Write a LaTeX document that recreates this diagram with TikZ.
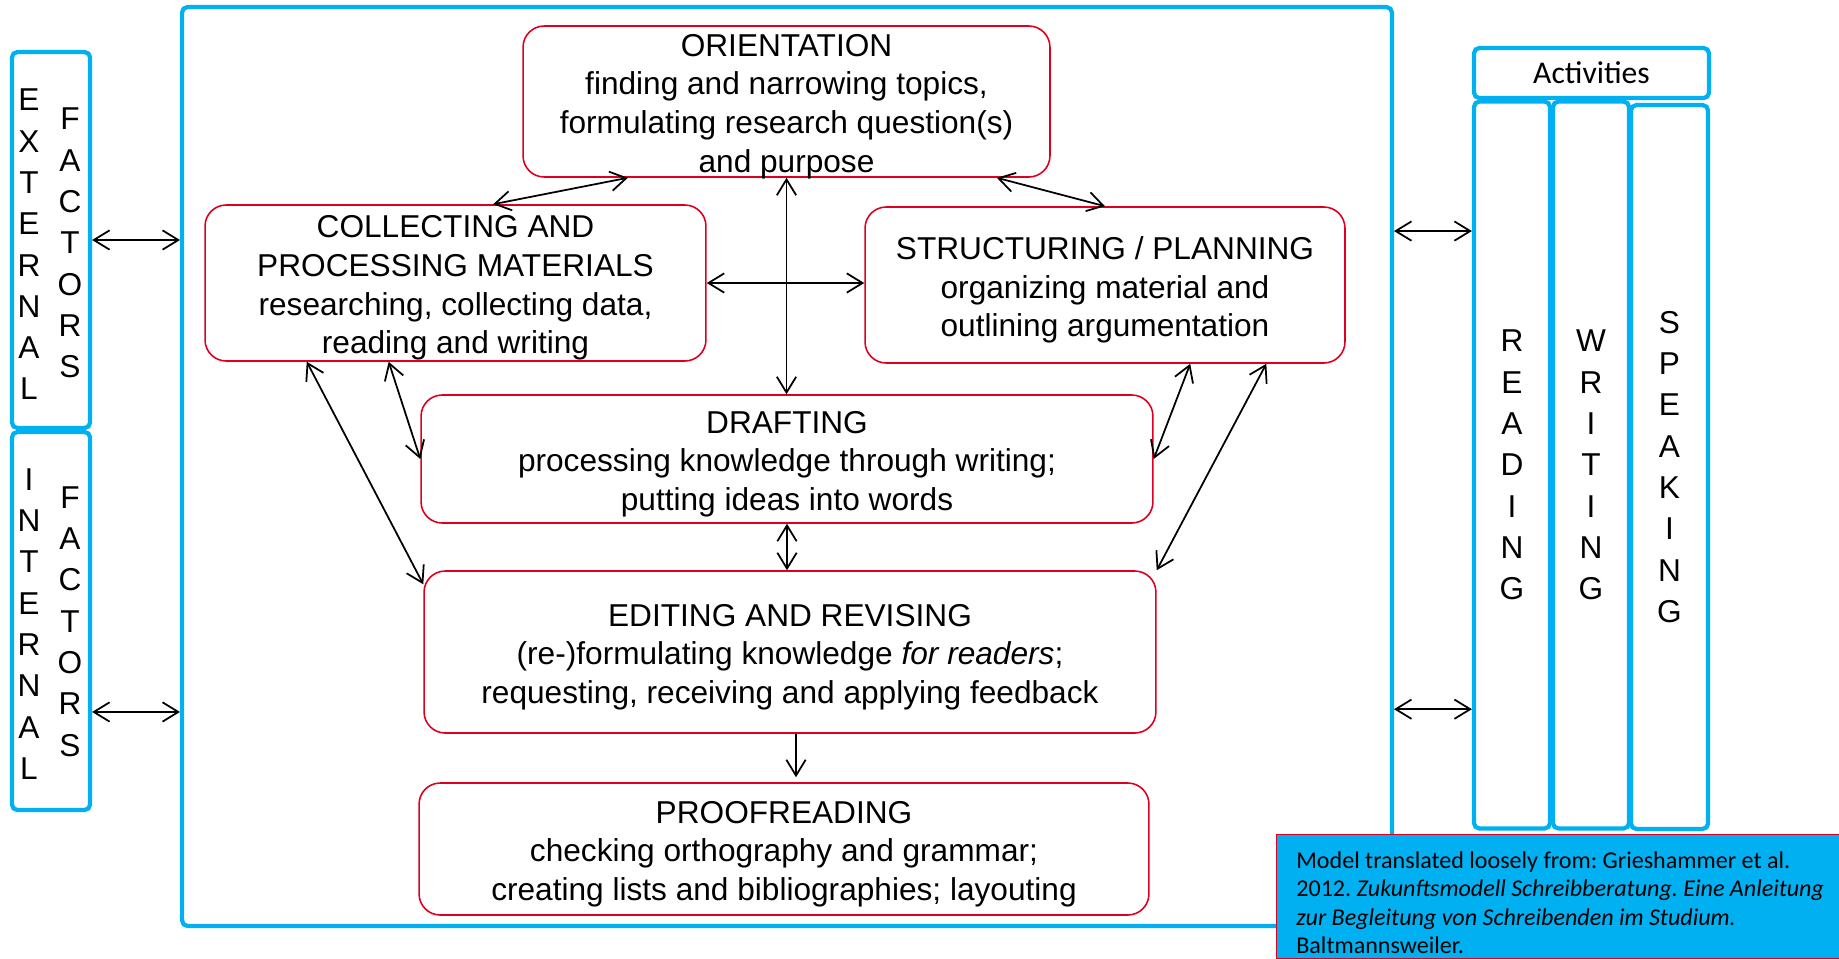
\documentclass[tikz,border=0pt]{standalone}
\usepackage{fontspec}
\setmainfont{Liberation Sans}
\newfontfamily\calibri{Carlito}
\usetikzlibrary{arrows.meta,calc}
\definecolor{boxred}{RGB}{220,0,30}
\definecolor{boxblue}{RGB}{0,176,240}
\frenchspacing
\tikzset{
	phase/.style={draw=boxred, line width=0.9pt, rounded corners=12pt, inner sep=0pt},
	phasetext/.style={align=center, inner sep=0pt, yshift=-2.8pt, font=\fontsize{18}{22}\selectfont},
	frame/.style={draw=boxblue, line width=2.4pt, rounded corners=3pt, inner sep=0pt},
	letters/.style={align=center, inner sep=0pt, font=\fontsize{18}{23.5}\selectfont},
	link/.style={<->, line width=1pt},
}
\begin{document}
\begin{tikzpicture}[x=0.02cm, y=-0.02cm, >={Straight Barb[length=9pt,width=11pt]}]
				\useasboundingbox (0,0) rectangle (1839,958);
				
				\node[frame, minimum width=24.2cm, minimum height=18.38cm] (main) at (787,466.5) {};
				
				\node[frame, minimum width=1.56cm, minimum height=7.52cm] (ext) at (51,240) {};
				\node[letters] (extA) at (29,244.5) {E\\X\\T\\E\\R\\N\\A\\L};
				\node[letters] (extB) at (70,243) {F\\A\\C\\T\\O\\R\\S};
				
				\node[frame, minimum width=1.56cm, minimum height=7.56cm] (int) at (51,621) {};
				\node[letters] (intA) at (29,624) {I\\N\\T\\E\\R\\N\\A\\L};
				\node[letters] (intB) at (70,621.5) {F\\A\\C\\T\\O\\R\\S};
				
				\node[frame, minimum width=4.7cm, minimum height=1cm, font=\calibri\fontsize{18}{22}\selectfont] (act) at (1591.5,73) {Activities};
				\node[frame, letters, minimum width=1.52cm, minimum height=14.54cm] (read) at (1512,465) {R\\E\\A\\D\\I\\N\\G};
				\node[frame, letters, minimum width=1.52cm, minimum height=14.54cm] (write) at (1591,465) {W\\R\\I\\T\\I\\N\\G};
				\node[frame, letters, minimum width=1.54cm, minimum height=14.48cm] (speak) at (1669.5,467) {S\\P\\E\\A\\K\\I\\N\\G};
				
				\node[phase, minimum width=10.54cm, minimum height=3.02cm] (orient) at (786.5,101.5) {};
				\node[phasetext] (orienttext) at (orient) {ORIENTATION\\finding and narrowing topics,\\formulating research question(s)\\and purpose};
				\node[phase, minimum width=10.02cm, minimum height=3.12cm] (coll) at (455.5,283) {};
				\node[phasetext] (colltext) at (coll) {COLLECTING AND\\PROCESSING MATERIALS\\researching, collecting data,\\reading and writing};
				\node[phase, minimum width=9.6cm, minimum height=3.12cm] (struct) at (1105,285) {};
				\node[phasetext] (structtext) at (struct) {STRUCTURING / PLANNING\\organizing material and\\outlining argumentation};
				\node[phase, minimum width=14.64cm, minimum height=2.56cm] (draft) at (787,459) {};
				\node[phasetext] (drafttext) at (draft) {DRAFTING\\processing knowledge through writing;\\putting ideas into words};
				\node[phase, minimum width=14.64cm, minimum height=3.24cm] (edit) at (790,652) {};
				\node[phasetext] (edittext) at (edit) {EDITING AND REVISING\\(re-)formulating knowledge \textit{for readers};\\requesting, receiving and applying feedback};
				\node[phase, minimum width=14.6cm, minimum height=2.64cm] (proof) at (784,849) {};
				\node[phasetext] (prooftext) at (proof) {PROOFREADING\\checking orthography and grammar;\\creating lists and bibliographies; layouting};
				
				\node[draw=boxred, line width=0.5pt, fill=boxblue, minimum width=11.26cm, minimum height=2.48cm, inner sep=0pt] (cite) at (1557.5,896) {};
				\node[anchor=north west, align=left, inner sep=0pt, font=\calibri\fontsize{13.7}{16.3}\selectfont] (citetext) at (1296,851) {Model translated loosely from: Grieshammer et al.\\2012. \textit{Zukunftsmodell Schreibberatung. Eine Anleitung}\\\textit{zur Begleitung von Schreibenden im Studium.}\\Baltmannsweiler.};
				
				\coordinate (intmid) at ($(int.south east)!0.262!(int.north east)$);
				\coordinate (readtop) at ($(read.north west)!0.18!(read.south west)$);
				\coordinate (readlow) at ($(read.north west)!0.834!(read.south west)$);
				
				\draw[link] (ext.east) -- (main.west |- ext.east);
				\draw[link] (intmid) -- (main.west |- intmid);
				\draw[link] (main.east |- readtop) -- (readtop);
				\draw[link] (main.east |- readlow) -- (readlow);
				
				\draw[link] ($(coll.north west)!0.575!(coll.north east)$) -- ($(orient.south west)!0.2!(orient.south east)$);
				\draw[link] ($(orient.south west)!0.898!(orient.south east)$) -- (struct.north);
				\draw[link] (orient.south) -- (orient.south |- draft.north);
				\draw[link] (coll.east) -- (coll.east -| struct.west);
				\draw[link] ($(coll.south west)!0.367!(coll.south east)$) -- (draft.west);
				\draw[link] ($(coll.south west)!0.204!(coll.south east)$) -- ($(edit.north west)!0.086!(edit.south west)$);
				\draw[link] ($(struct.south west)!0.677!(struct.south east)$) -- (draft.east);
				\draw[link] ($(struct.south west)!0.835!(struct.south east)$) -- (edit.north east);
				\draw[link] (draft.south) -- (draft.south |- edit.north);
				\draw[->, line width=1pt] ([xshift=0.12cm]edit.south) -- ([xshift=0.12cm,yshift=0.1cm]edit.south |- proof.north);
			\end{tikzpicture}
\end{document}
